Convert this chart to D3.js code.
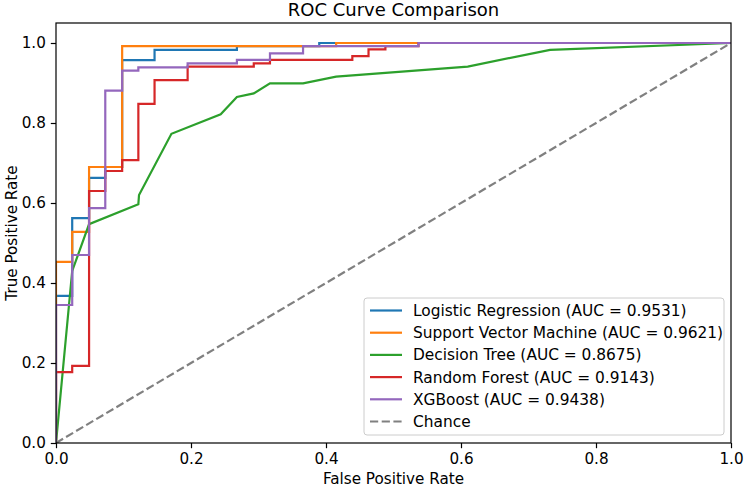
<!DOCTYPE html>
<html>
<head>
<meta charset="utf-8">
<script src="https://cdn.jsdelivr.net/npm/d3@7"></script>
<style>
    body { margin: 0; background: #fff; }
    text { font-family: "DejaVu Sans", sans-serif; fill: #000; }
</style>
</head>
<body>
<div id="chart"></div>
<script>
// Model names and AUC labels
var modelNames = ["Logistic Regression", "Support Vector Machine", "Decision Tree", "Random Forest", "XGBoost"];
var aucValues = ["0.9531", "0.9621", "0.8675", "0.9143", "0.9438"];

// ROC points
var lrFpr = [0, 0, 0.024, 0.024, 0.049, 0.049, 0.073, 0.073, 0.098, 0.098, 0.146, 0.146, 0.268, 0.268, 0.39, 0.39, 1];
var lrTpr = [0, 0.368, 0.368, 0.562, 0.562, 0.663, 0.663, 0.69, 0.69, 0.957, 0.957, 0.983, 0.983, 0.992, 0.992, 1, 1];

var svmFpr = [0, 0, 0.024, 0.024, 0.049, 0.049, 0.098, 0.098, 0.415, 0.415, 1];
var svmTpr = [0, 0.453, 0.453, 0.528, 0.528, 0.69, 0.69, 0.992, 0.992, 1, 1];

var dtFpr = [0, 0.024, 0.049, 0.122, 0.123, 0.171, 0.244, 0.268, 0.293, 0.317, 0.366, 0.415, 0.61, 0.732, 1];
var dtTpr = [0, 0.43, 0.547, 0.597, 0.62, 0.773, 0.822, 0.865, 0.874, 0.899, 0.899, 0.916, 0.941, 0.983, 1];

var rfFpr = [0, 0, 0.024, 0.024, 0.049, 0.049, 0.073, 0.073, 0.098, 0.098, 0.122, 0.122, 0.146, 0.146, 0.195, 0.195, 0.293, 0.293, 0.317, 0.317, 0.439, 0.439, 0.463, 0.463, 0.488, 0.488, 0.537, 0.537, 1];
var rfTpr = [0, 0.177, 0.177, 0.193, 0.193, 0.63, 0.63, 0.68, 0.68, 0.707, 0.707, 0.848, 0.848, 0.907, 0.907, 0.941, 0.941, 0.949, 0.949, 0.958, 0.958, 0.967, 0.967, 0.984, 0.984, 0.992, 0.992, 1, 1];

var xgbFpr = [0, 0, 0.024, 0.024, 0.049, 0.049, 0.073, 0.073, 0.098, 0.098, 0.122, 0.122, 0.195, 0.195, 0.268, 0.268, 0.317, 0.317, 0.366, 0.366, 0.537, 0.537, 1];
var xgbTpr = [0, 0.345, 0.345, 0.47, 0.47, 0.587, 0.587, 0.881, 0.881, 0.931, 0.931, 0.939, 0.939, 0.949, 0.949, 0.958, 0.958, 0.974, 0.974, 0.992, 0.992, 1, 1];

var chanceFpr = [0, 1];
var chanceTpr = [0, 1];

var tickValues = [0, 0.2, 0.4, 0.6, 0.8, 1.0];
var colors = ["#1f77b4", "#ff7f0e", "#2ca02c", "#d62728", "#9467bd"];

// Set SVG dimensions
var svgWidth = 744;
var svgHeight = 487;

// Set chart margins
var chartMargin = { top: 23, right: 13, bottom: 44, left: 56 };
var chartWidth = svgWidth - (chartMargin.left + chartMargin.right);
var chartHeight = svgHeight - (chartMargin.top + chartMargin.bottom);

var svg = d3.select("#chart")
    .append("svg")
    .attr("width", svgWidth)
    .attr("height", svgHeight);

var chartGroup = svg.append("g")
    .attr("transform", `translate(${chartMargin.left},${chartMargin.top})`);

// Scales
var xScale = d3.scaleLinear().domain([0, 1]).range([0, chartWidth]);
var yScale = d3.scaleLinear().domain([0, 1.05]).range([chartHeight, 0]);

// Build series
function zipPoints(fpr, tpr) {
    return fpr.map((f, i) => ({ x: f, y: tpr[i] }));
}
var series = [
    zipPoints(lrFpr, lrTpr),
    zipPoints(svmFpr, svmTpr),
    zipPoints(dtFpr, dtTpr),
    zipPoints(rfFpr, rfTpr),
    zipPoints(xgbFpr, xgbTpr)
];

var line = d3.line().x(d => xScale(d.x)).y(d => yScale(d.y));

// Clip to axes area
svg.append("clipPath").attr("id", "plotClip")
    .append("rect")
    .attr("x", 0).attr("y", 0)
    .attr("width", chartWidth).attr("height", chartHeight);

var lineGroup = chartGroup.append("g").attr("clip-path", "url(#plotClip)");

series.forEach(function(pts, i) {
    lineGroup.append("path")
        .datum(pts)
        .attr("d", line)
        .attr("fill", "none")
        .attr("stroke", colors[i])
        .attr("stroke-width", 2.2)
        .attr("stroke-linejoin", "miter")
        .attr("stroke-linecap", "square");
});

// Chance line
lineGroup.append("path")
    .datum(zipPoints(chanceFpr, chanceTpr))
    .attr("d", line)
    .attr("fill", "none")
    .attr("stroke", "#808080")
    .attr("stroke-width", 2.2)
    .attr("stroke-dasharray", "8.2,3.5");

// Axes
var xAxis = d3.axisBottom(xScale).tickValues(tickValues).tickFormat(d3.format(".1f")).tickSize(5.2).tickPadding(5);
var yAxis = d3.axisLeft(yScale).tickValues(tickValues).tickFormat(d3.format(".1f")).tickSize(5.2).tickPadding(5);

var xAxisGroup = chartGroup.append("g")
    .attr("transform", `translate(0,${chartHeight})`)
    .call(xAxis);
var yAxisGroup = chartGroup.append("g").call(yAxis);

[xAxisGroup, yAxisGroup].forEach(function(g) {
    g.select(".domain").remove();
    g.selectAll("line").attr("stroke", "#000").attr("stroke-width", 1.2);
    g.selectAll("text").style("font-size", "15.2px").style("font-family", "DejaVu Sans, sans-serif");
});

// Frame
chartGroup.append("rect")
    .attr("width", chartWidth)
    .attr("height", chartHeight)
    .attr("fill", "none")
    .attr("stroke", "#000")
    .attr("stroke-width", 1.2);

// Title and axis labels
svg.append("text")
    .attr("x", chartMargin.left + chartWidth / 2)
    .attr("y", 16)
    .attr("text-anchor", "middle")
    .style("font-size", "18px")
    .text("ROC Curve Comparison");

svg.append("text")
    .attr("x", chartMargin.left + chartWidth / 2)
    .attr("y", 484)
    .attr("text-anchor", "middle")
    .style("font-size", "15.2px")
    .text("False Positive Rate");

svg.append("text")
    .attr("transform", `translate(17,${chartMargin.top + chartHeight / 2}) rotate(-90)`)
    .attr("text-anchor", "middle")
    .style("font-size", "15.2px")
    .text("True Positive Rate");

// Legend
var legendLabels = modelNames.map((n, i) => `${n} (AUC = ${aucValues[i]})`).concat(["Chance"]);
var legendColors = colors.concat(["#808080"]);

var legend = svg.append("g").attr("transform", "translate(364,298)");
legend.append("rect")
    .attr("width", 360)
    .attr("height", 137)
    .attr("rx", 3)
    .attr("fill", "#fff")
    .attr("fill-opacity", 0.8)
    .attr("stroke", "#cccccc")
    .attr("stroke-width", 1);

legendLabels.forEach(function(label, i) {
    var ly = 12.5 + i * 22.2;
    legend.append("line")
        .attr("x1", 6).attr("x2", 38)
        .attr("y1", ly).attr("y2", ly)
        .attr("stroke", legendColors[i])
        .attr("stroke-width", 2.2)
        .attr("stroke-dasharray", i === 5 ? "8.2,3.5" : null);
    legend.append("text")
        .attr("x", 49)
        .attr("y", ly + 5.5)
        .style("font-size", "15.4px")
        .text(label);
});
</script>
</body>
</html>
